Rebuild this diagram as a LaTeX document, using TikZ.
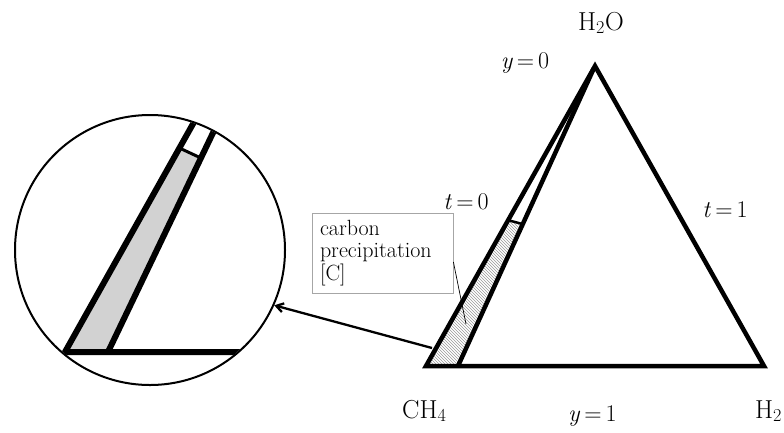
\documentclass[tikz,border=0pt]{standalone}
\usepackage{fontspec}
\usetikzlibrary{patterns,arrows.meta}
\newcommand{\eqlab}[2]{\textit{#1}\,=\,#2}
\begin{document}
\begin{tikzpicture}[x=1pt,y=-1pt,
  chem/.style={font=\fontsize{26}{30}\selectfont, inner sep=0pt},
  mlab/.style={font=\fontsize{24}{28}\selectfont, inner sep=0pt},
  edge/.style={line width=4.5pt, line join=miter},
  bigedge/.style={line width=6pt, line join=miter},
  hatchfill/.style={pattern=north west lines, pattern color=gray!80},
]
\useasboundingbox (0,0) rectangle (784,432);
% ---------- triangle ----------
\coordinate (A) at (595,66);
\coordinate (B) at (426,366);
\coordinate (C) at (764,366);
\coordinate (I) at (458,366);
\coordinate (Ai) at (594,68);
\coordinate (ho) at (507.4,220);
\coordinate (hi) at (522.4,224);
\coordinate (lead) at (466,324);
\coordinate (ast) at (432,348);
\fill[hatchfill] (B) -- (ho) -- (hi) -- (I) -- cycle;
\draw[line width=2.5pt] (ho) -- (hi);
\draw[edge] (B) -- (A) -- (C) -- cycle;
\draw[edge] (I) -- (Ai);
% ---------- labels ----------
\node[chem] (h2o) at (601,23) {H\textsubscript{2}O};
\node[mlab] (y0) at (525,63) {\eqlab{y}{0}};
\node[mlab] (t0) at (466,202) {\eqlab{t}{0}};
\node[mlab] (t1) at (725,210) {\eqlab{t}{1}};
\node[chem, anchor=base west] (ch4) at (402,418) {CH\textsubscript{4}};
\node[mlab, anchor=base west] (y1) at (568,421) {\eqlab{y}{1}};
\node[chem, anchor=base west] (h2) at (755,418) {H\textsubscript{2}};
% ---------- box ----------
\node[draw=gray!70, line width=0.8pt, minimum width=141pt, minimum height=80pt,
      text width=125pt, inner xsep=8pt, align=left,
      font=\fontsize{22}{22.5}\selectfont] (box) at (382.5,253)
      {carbon\\precipitation\\{[C]}};
\draw[line width=0.7pt] ([yshift=-9pt]box.east) -- (lead);
% ---------- magnified view ----------
\node[circle, draw, line width=2pt, minimum size=270pt, inner sep=0pt] (zoom) at (150,250) {};
\begin{scope}
  \clip (zoom.center) circle[radius=134pt];
  \fill[gray!35] (65,352) -- (179.4,148) -- (200.9,158) -- (108,352) -- cycle;
  \draw[line width=3pt] (179.4,148) -- (200.9,158);
  \draw[bigedge] (217.6,80) -- (65,352) -- (300,352);
  \draw[bigedge] (238.3,80) -- (108,352);
\end{scope}
\draw[line width=2.3pt, -{Straight Barb[length=7pt,width=9pt]}] (ast) -- (zoom.-24);
\end{tikzpicture}
\end{document}
